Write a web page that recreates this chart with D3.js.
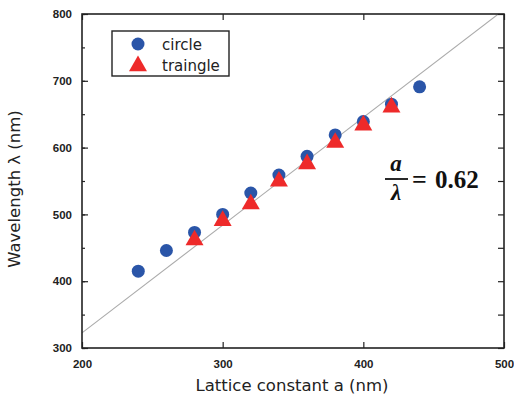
<!DOCTYPE html>
<html><head><meta charset="utf-8">
<script src="https://cdn.jsdelivr.net/npm/d3@7"></script>
<style>body{margin:0;background:#fff}svg{display:block}</style>
</head><body>
<svg id="c" width="514" height="398"></svg>
<script>
const latticeCircle = [240,260,280,300,320,340,360,380,400,420,440];
const lambdaCircle  = [415,446,473,500,532,559,587,619,639,665,691];
const latticeTri    = [280,300,320,340,360,380,400,420];
const lambdaTri     = [463,492,517,551,577,609,635,662];
const xTicks = [200,300,400,500];
const yTicks = [300,400,500,600,700,800];
const ratio = 0.62;

const svg = d3.select("#c");
const L=82,R=504,T=14,B=348;
const x = d3.scaleLinear().domain([200,500]).range([L,R]);
const y = d3.scaleLinear().domain([300,800]).range([B,T]);

svg.append("defs").append("clipPath").attr("id","clip")
  .append("rect").attr("x",L).attr("y",T).attr("width",R-L).attr("height",B-T);

// fit line
const lineX = [200,500];
svg.append("line").attr("clip-path","url(#clip)")
  .attr("x1",x(lineX[0])).attr("y1",y(lineX[0]/ratio))
  .attr("x2",x(lineX[1])).attr("y2",y(lineX[1]/ratio))
  .attr("stroke","#aaa").attr("stroke-width",1.1);

// axes
const fontTick = "bold 11.5px 'Liberation Sans', Arial, sans-serif";
const yMinor = d3.range(300,801,50);
function styleAxis(g){ g.select(".domain").remove(); g.selectAll("line").attr("stroke","#222").attr("stroke-width",1.2); g.selectAll("text").style("font",fontTick).attr("fill","#222"); }
svg.append("g").attr("transform",`translate(0,${B})`)
  .call(d3.axisBottom(x).tickValues(xTicks).tickSize(-6).tickPadding(12).tickFormat(d3.format("d"))).call(styleAxis);
svg.append("g").attr("transform",`translate(0,${T})`)
  .call(d3.axisTop(x).tickValues(xTicks).tickSize(-6).tickFormat("")).call(styleAxis);
svg.append("g").attr("transform",`translate(${L},0)`)
  .call(d3.axisLeft(y).tickValues(yTicks).tickSize(-6).tickPadding(10).tickFormat(d3.format("d"))).call(styleAxis);
svg.append("g").attr("transform",`translate(${L},0)`)
  .call(d3.axisLeft(y).tickValues(yMinor).tickSize(-3).tickFormat("")).call(styleAxis);
svg.append("g").attr("transform",`translate(${R},0)`)
  .call(d3.axisRight(y).tickValues(yMinor).tickSize(-6).tickFormat("")).call(styleAxis);
svg.append("rect").attr("x",L).attr("y",T).attr("width",R-L).attr("height",B-T)
  .attr("fill","none").attr("stroke","#222").attr("stroke-width",1.6);

// points
const blue="#2a55a8", red="#ee2a2a";
svg.append("g").selectAll("circle").data(latticeCircle).join("circle")
  .attr("cx",d=>x(d)).attr("cy",(d,i)=>y(lambdaCircle[i])).attr("r",6.5).attr("fill",blue);
const tri = d3.symbol().type(d3.symbolTriangle).size(140);
svg.append("g").selectAll("path").data(latticeTri).join("path")
  .attr("d",tri).attr("transform",(d,i)=>`translate(${x(d)},${y(lambdaTri[i])+1})`).attr("fill",red);

// legend
svg.append("rect").attr("x",112).attr("y",31).attr("width",117).attr("height",45)
  .attr("fill","#fff").attr("stroke","#222").attr("stroke-width",1.4);
svg.append("circle").attr("cx",138).attr("cy",44).attr("r",6.5).attr("fill",blue);
svg.append("path").attr("d",tri).attr("transform","translate(138,66)").attr("fill",red);
const legFont = "15px 'DejaVu Sans', sans-serif";
svg.append("text").attr("x",162).attr("y",50).text("circle").style("font",legFont).attr("fill","#222");
svg.append("text").attr("x",162).attr("y",71).text("traingle").style("font",legFont).attr("fill","#222");

// equation
const eq = svg.append("g").style("font","bold italic 23px 'Liberation Serif', 'Times New Roman', serif").attr("fill","#111");
eq.append("text").attr("x",396).attr("y",171).attr("text-anchor","middle").text("a");
eq.append("line").attr("x1",385).attr("x2",408).attr("y1",179).attr("y2",179).attr("stroke","#111").attr("stroke-width",1.8);
eq.append("text").attr("x",396).attr("y",200).attr("text-anchor","middle").text("λ");
eq.append("text").attr("x",412).attr("y",188).style("font-style","normal").style("font-size","26px").text("=");
eq.append("text").attr("x",435).attr("y",188).style("font-style","normal").style("font-size","25px").text("0.62");

// axis labels
const labFont = "16.5px 'DejaVu Sans', sans-serif";
svg.append("text").attr("x",292).attr("y",391).attr("text-anchor","middle")
  .style("font",labFont).attr("fill","#222").text("Lattice constant a (nm)");
svg.append("text").attr("transform","translate(20,189) rotate(-90)").attr("text-anchor","middle")
  .style("font",labFont).attr("fill","#222").text("Wavelength λ (nm)");
</script>
</body></html>
